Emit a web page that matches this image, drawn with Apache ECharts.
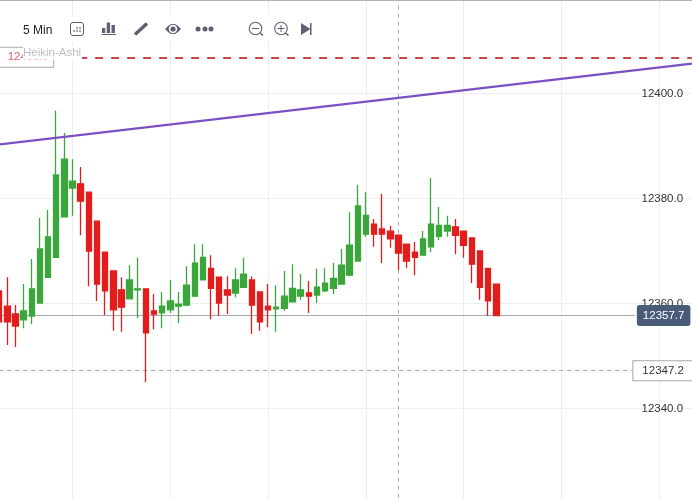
<!DOCTYPE html>
<html><head><meta charset="utf-8">
<style>html,body{margin:0;padding:0;background:#fff}#c{width:692px;height:499px}</style>
<script src="https://cdn.jsdelivr.net/npm/echarts@6/dist/echarts.min.js"></script>
</head><body><div id="c"></div>
<script>
const opens=[12362.4,12359.5,12358.0,12356.9,12357.6,12360.1,12365.0,12368.8,12376.5,12382.0,12382.8,12381.2,12375.7,12369.8,12366.2,12362.6,12360.9,12362.6,12362.8,12358.6,12358.2,12358.8,12359.5,12359.7,12361.4,12364.5,12366.7,12365.0,12362.6,12362.0,12363.1,12364.5,12362.2,12359.5,12359.0,12359.1,12360.3,12361.4,12362.0,12361.6,12362.4,12362.9,12363.7,12365.4,12368.1,12373.2,12375.1,12374.2,12373.8,12373.0,12371.3,12369.8,12369.2,12370.8,12372.8,12373.8,12374.6,12373.8,12372.5,12370.0,12366.7,12363.7];
const closes=[12356.5,12356.5,12355.7,12358.6,12362.8,12370.4,12372.7,12384.5,12387.5,12383.3,12379.5,12370.0,12363.7,12362.4,12358.8,12359.3,12364.5,12362.8,12354.4,12358.0,12359.5,12360.5,12359.9,12363.5,12367.7,12368.8,12362.9,12360.1,12361.6,12364.5,12365.6,12359.7,12356.5,12358.8,12359.3,12361.4,12362.9,12362.6,12361.4,12363.1,12363.9,12364.8,12367.3,12371.1,12378.6,12376.8,12373.2,12373.2,12372.3,12369.6,12368.1,12368.8,12372.3,12375.1,12374.9,12374.9,12373.0,12371.1,12367.5,12363.1,12360.5,12357.7];
const lows=[12353.0,12352.1,12351.7,12355.3,12356.1,12360.1,12365.0,12368.8,12376.5,12376.7,12373.0,12363.3,12360.5,12357.8,12354.8,12354.6,12360.9,12357.2,12345.0,12355.1,12355.3,12358.2,12356.3,12359.5,12361.4,12364.5,12357.0,12357.6,12358.0,12361.2,12363.1,12354.2,12354.8,12355.5,12354.6,12358.6,12360.3,12360.7,12358.2,12360.1,12362.2,12361.8,12363.7,12365.2,12368.1,12372.7,12370.8,12367.7,12370.6,12366.4,12366.7,12365.4,12369.2,12369.8,12372.1,12372.7,12369.4,12368.7,12363.9,12360.7,12357.6,12357.7];
const highs=[12364.5,12365.0,12359.7,12363.7,12368.5,12376.3,12377.8,12396.7,12392.5,12387.5,12386.0,12381.2,12375.7,12369.8,12366.2,12365.0,12367.3,12368.7,12362.8,12361.8,12362.2,12364.5,12362.2,12367.1,12371.3,12371.3,12369.2,12365.0,12365.2,12366.7,12368.7,12365.2,12362.2,12363.7,12363.5,12366.2,12367.5,12365.6,12364.3,12366.6,12366.7,12367.7,12370.4,12377.4,12382.6,12381.2,12376.1,12380.9,12374.8,12373.0,12371.3,12371.7,12373.8,12383.9,12378.4,12376.7,12376.1,12373.8,12372.5,12370.0,12366.7,12363.7];
const slotCount=87;
const categories=Array.from({length:slotCount},(_,i)=>String(i));
const yTicks={min:12320,max:12420,step:20};
const lastPrice=12357.7, crossPrice=12347.2, alertPrice=12406.9;
const trendStart=12390.3, trendEnd=12405.7;
const crossIndex=49, tagIndex=78, alertIndex=7, trendEndIndex=85;

const GREEN='#3ba63b', RED='#e31c1c', GREY='#a6a8b4', ICON='#5f5f73';
const candle=opens.map((o,i)=>[o,closes[i],lows[i],highs[i]]);
const chart=echarts.init(document.getElementById('c'),null,{renderer:'canvas'});
chart.setOption({
  animation:false,
  backgroundColor:'#fff',
  grid:{left:-0.85,top:-11.5,width:700.9,height:525,containLabel:false,outerBoundsMode:'none'},
  xAxis:{type:'category',data:categories,boundaryGap:false,
    axisLine:{show:false},axisTick:{show:false},axisLabel:{show:false},
    splitLine:{show:true,interval:(i)=>(i-9)%12===0,lineStyle:{color:'#eeeeee',width:1}}},
  yAxis:{type:'value',position:'right',min:yTicks.min,max:yTicks.max,interval:yTicks.step,
    axisLine:{show:false},axisTick:{show:false},
    axisLabel:{inside:true,margin:17,color:'#333',fontFamily:'Liberation Sans',fontSize:11.5,formatter:v=>v.toFixed(1)},
    splitLine:{show:true,lineStyle:{color:'#eeeeee',width:1}}},
  series:[
    {type:'candlestick',name:'Heikin-Ashi',data:candle,barWidth:6,clip:false,z:2,
     itemStyle:{color:GREEN,color0:RED,borderColor:GREEN,borderColor0:RED,borderWidth:1.3},
     markLine:{silent:true,z:1,symbol:'none',animation:false,data:[
       {xAxis:categories[crossIndex],lineStyle:{color:GREY,type:[4,4],width:1},label:{show:false}},
       [{coord:[categories[0],lastPrice],lineStyle:{color:GREY,type:'solid',width:1},
         label:{show:true,position:'end',distance:2,formatter:lastPrice.toFixed(1),color:'#fff',backgroundColor:'#4a5b7a',borderRadius:3,padding:[5,6,4,6],fontFamily:'Liberation Sans',fontSize:11.5}},
        {coord:[categories[tagIndex],lastPrice]}],
       [{coord:[categories[0],crossPrice],lineStyle:{color:GREY,type:[4,4],width:1},
         label:{show:true,position:'end',distance:-1.5,formatter:crossPrice.toFixed(1),color:'#333',backgroundColor:'#fff',borderColor:GREY,borderWidth:1,padding:[4,9,3,9],fontFamily:'Liberation Sans',fontSize:11.5}},
        {coord:[categories[tagIndex],crossPrice]}]
     ]}},
    {type:'line',name:'Drawings',data:[],z:3,silent:true,
     markLine:{silent:true,z:5,symbol:'none',animation:false,data:[
       [{coord:[categories[0],trendStart],lineStyle:{color:'#7c4fc4',width:2.2,type:'solid'},label:{show:false}},
        {coord:[categories[trendEndIndex],trendEnd]}],
       [{coord:[categories[alertIndex],alertPrice],lineStyle:{color:'#c8474f',width:2,type:[8,8],dashOffset:9},
         label:{show:true,position:'start',distance:3,formatter:alertPrice.toFixed(1),color:'#e05a60',backgroundColor:'#fff',borderColor:GREY,borderWidth:1,padding:[4,4,3,9],fontFamily:'Liberation Sans',fontSize:11.5}},
        {coord:[categories[trendEndIndex],alertPrice]}]
     ]}}
  ],
  graphic:{elements:[
    {type:'line',z:1000,shape:{x1:0,y1:0.5,x2:692,y2:0.5},style:{stroke:'#b3b3bc',lineWidth:1}},
    {type:'rect',z:1000,shape:{x:0,y:17,width:325,height:24},style:{fill:'#fff'}},
    {type:'rect',z:1000,shape:{x:23,y:46,width:59,height:13.5},style:{fill:'#fff'}},
    {type:'text',z:1001,x:23,y:47,style:{text:'Heikin-Ashi',fill:'#bdbdc4',font:'11.5px "Liberation Sans"'}},
    {type:'text',z:1001,x:23,y:25,style:{text:'5 Min',fill:'#222',font:'500 12px "Liberation Sans"'}},
    {type:'rect',z:1001,shape:{x:70.5,y:22.5,width:13,height:13,r:2.5},style:{fill:'none',stroke:ICON,lineWidth:1}},
    ...[[77,28],[80,28],[74,31],[77,31],[80,31]].map(p=>({type:'rect',z:1001,shape:{x:p[0]-.7,y:p[1]-.7,width:1.5,height:1.5},style:{fill:ICON}})),
    {type:'rect',z:1001,shape:{x:102,y:28,width:3.2,height:5},style:{fill:ICON}},
    {type:'rect',z:1001,shape:{x:106.7,y:22.5,width:3.4,height:10.5},style:{fill:ICON}},
    {type:'rect',z:1001,shape:{x:111.5,y:25,width:3.4,height:8},style:{fill:ICON}},
    {type:'rect',z:1001,shape:{x:101.5,y:34,width:14.5,height:1},style:{fill:ICON}},
    {type:'line',z:1001,shape:{x1:135,y1:34.5,x2:147,y2:23.5},style:{stroke:ICON,lineWidth:3.4}},
    {type:'polygon',z:1001,shape:{points:[[165,29],[168,26],[171,24],[175,24],[178,26],[181,29],[178,32],[175,34],[171,34],[168,32]]},style:{fill:ICON}},
    {type:'circle',z:1002,shape:{cx:173,cy:29,r:3.4},style:{fill:ICON,stroke:'#fff',lineWidth:1.6}},
    ...[198,205,211].map(x=>({type:'circle',z:1001,shape:{cx:x,cy:29,r:2.5},style:{fill:ICON}})),
    {type:'circle',z:1001,shape:{cx:255.5,cy:28.5,r:6.3},style:{fill:'none',stroke:ICON,lineWidth:1.1}},
    {type:'line',z:1001,shape:{x1:252,y1:28.5,x2:259,y2:28.5},style:{stroke:ICON,lineWidth:1}},
    {type:'line',z:1001,shape:{x1:260,y1:33,x2:263,y2:35.5},style:{stroke:ICON,lineWidth:1.6}},
    {type:'circle',z:1001,shape:{cx:281,cy:28.5,r:6.3},style:{fill:'none',stroke:ICON,lineWidth:1.1}},
    {type:'line',z:1001,shape:{x1:277.5,y1:28.5,x2:284.5,y2:28.5},style:{stroke:ICON,lineWidth:1}},
    {type:'line',z:1001,shape:{x1:281,y1:25,x2:281,y2:32},style:{stroke:ICON,lineWidth:1}},
    {type:'line',z:1001,shape:{x1:285.5,y1:33,x2:288.5,y2:35.5},style:{stroke:ICON,lineWidth:1.6}},
    {type:'polygon',z:1001,shape:{points:[[301,23],[310.5,29],[301,35]]},style:{fill:ICON}},
    {type:'rect',z:1001,shape:{x:310,y:23,width:1.5,height:12},style:{fill:ICON}}
  ]}
});
</script></body></html>
